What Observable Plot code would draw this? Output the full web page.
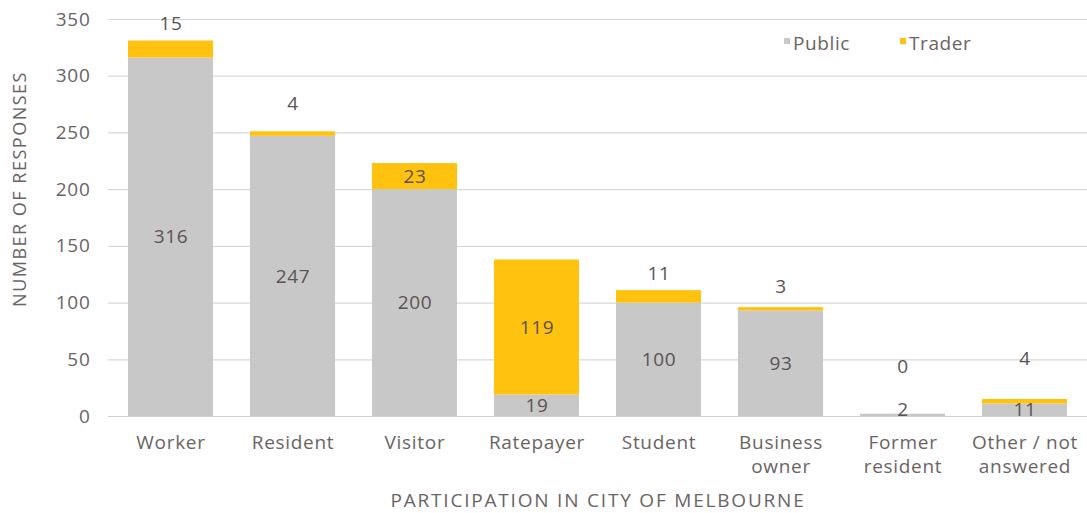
<!DOCTYPE html>
<html>
<head>
<meta charset="utf-8">
<script src="https://cdn.jsdelivr.net/npm/d3@7"></script>
<script src="https://cdn.jsdelivr.net/npm/@observablehq/plot@0.6"></script>
<style>
  html, body { margin: 0; padding: 0; background: #fff; }
  #wrap { position: relative; width: 1087px; height: 513px; font-family: "Open Sans", Lato, sans-serif; }
  .legend { position: absolute; top: 30px; left: 784px; display: flex; font-size: 19px; line-height: 26px; letter-spacing: 0.6px; color: #6b6365; }
  .legend span.item { display: inline-flex; align-items: flex-start; margin-right: 50px; }
  .legend i { display: inline-block; width: 6px; height: 6px; margin-top: 8px; margin-right: 3px; }
</style>
</head>
<body>
<div id="wrap"></div>
<script>
const categories = ["Worker", "Resident", "Visitor", "Ratepayer", "Student", "Business owner", "Former resident", "Other / not answered"];
const categoryLabels = ["Worker", "Resident", "Visitor", "Ratepayer", "Student", "Business\nowner", "Former\nresident", "Other / not\nanswered"];
const series = ["Public", "Trader"];
const publicValues = [316, 247, 200, 19, 100, 93, 2, 11];
const traderValues = [15, 4, 23, 119, 11, 3, 0, 4];
const yTicks = [0, 50, 100, 150, 200, 250, 300, 350];
const yTitle = "NUMBER OF RESPONSES";
const xTitle = "PARTICIPATION IN CITY OF MELBOURNE";
const colors = ["#c8c8c8", "#ffc20e"];

const rows = [];
categories.forEach((c, i) => {
  rows.push({cat: c, series: "Public", value: publicValues[i], base: 0});
  rows.push({cat: c, series: "Trader", value: traderValues[i], base: publicValues[i]});
});

const labelColor = "#5b5254";
const tickColor = "#6b6365";
const font = "'Open Sans', Lato, sans-serif";

// labels for small trader segments sit above the bar (offsets in px as in the reference)
const aboveOffsets = {"Worker": -17, "Resident": -28, "Student": -17, "Business owner": -21, "Former resident": -47, "Other / not answered": -41};
const publicOffsets = {"Former resident": -5};

const marks = [
  Plot.gridY(yTicks.filter(t => t > 0), {stroke: "#d9d9d9", strokeOpacity: 1, strokeWidth: 1.2}),
  Plot.barY(rows, {x: "cat", y1: "base", y2: d => d.base + d.value, fill: "series"}),
  Plot.ruleY([0], {stroke: "#cfcfcf", strokeWidth: 1.2}),
  Plot.axisY({ticks: yTicks, tickSize: 0, tickPadding: 18, fontSize: 19, color: tickColor, label: null}),
  Plot.axisX({tickSize: 0, tickPadding: 16, fontSize: 19, color: tickColor, lineHeight: 1.25,
    tickFormat: d => categoryLabels[categories.indexOf(d)], label: null}),
  Plot.text([yTitle], {text: d => d, frameAnchor: "left", textAnchor: "middle", lineAnchor: "middle", dx: -88, dy: -29, rotate: -90, fontSize: 18, fill: tickColor}),
  Plot.text([xTitle], {text: d => d, frameAnchor: "bottom", textAnchor: "middle", lineAnchor: "middle", dy: 84, fontSize: 19, fill: tickColor}),
  Plot.text(rows.filter(d => d.series === "Public" && !publicOffsets[d.cat]), {x: "cat", y: d => d.base + d.value / 2, text: d => String(d.value), fontSize: 19, fill: labelColor}),
  Plot.text(rows.filter(d => d.series === "Trader" && !(d.cat in aboveOffsets)), {x: "cat", y: d => d.base + d.value / 2, text: d => String(d.value), fontSize: 19, fill: labelColor})
];
for (const [cat, dy] of Object.entries(aboveOffsets)) {
  marks.push(Plot.text(rows.filter(d => d.series === "Trader" && d.cat === cat), {x: "cat", y: d => d.base + d.value, dy, text: d => String(d.value), fontSize: 19, fill: labelColor}));
}
for (const [cat, dy] of Object.entries(publicOffsets)) {
  marks.push(Plot.text(rows.filter(d => d.series === "Public" && d.cat === cat), {x: "cat", y: d => d.base + d.value / 2, dy, text: d => String(d.value), fontSize: 19, fill: labelColor}));
}

const chart = Plot.plot({
  width: 1087,
  height: 513,
  marginLeft: 108,
  marginRight: 0,
  marginTop: 19,
  marginBottom: 97,
  style: {fontFamily: font, background: "#fff", letterSpacing: "0.7px"},
  x: {domain: categories, paddingInner: 0.3, paddingOuter: 0.15, label: null},
  y: {domain: [0, 350], label: null},
  color: {domain: series, range: colors},
  marks
});

// wider tracking for the axis titles
d3.select(chart).selectAll("text").each(function() {
  const t = this.textContent;
  if (t === yTitle) d3.select(this).attr("letter-spacing", "1.5px");
  if (t === xTitle) d3.select(this).attr("letter-spacing", "1.8px");
});

const wrap = document.getElementById("wrap");
wrap.appendChild(chart);
const legend = document.createElement("div");
legend.className = "legend";
series.forEach((s, i) => {
  const item = document.createElement("span");
  item.className = "item";
  const sw = document.createElement("i");
  sw.style.background = colors[i];
  item.appendChild(sw);
  item.appendChild(document.createTextNode(s));
  legend.appendChild(item);
});
wrap.appendChild(legend);
</script>
</body>
</html>
